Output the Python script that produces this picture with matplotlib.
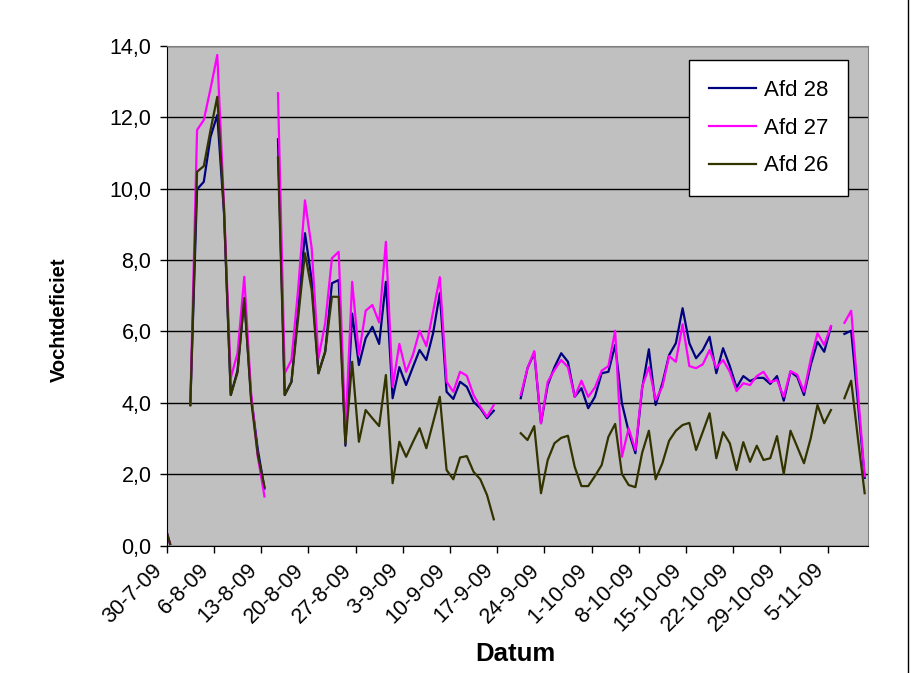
import matplotlib
matplotlib.use("Agg")
import matplotlib.pyplot as plt
import numpy as np
import pandas as pd

nan = np.nan

# dagelijkse waarden vanaf 29-7-09 t/m 10-11-09
datums = pd.date_range("2009-07-29", "2009-11-10", freq="D")

afd28 = [0.7, 0.05, nan, nan, 3.95, 9.98, 10.19, 11.45, 12.06, 9.3, 4.22,
         4.9, 6.93, 4.2, 2.7, 1.6, nan, 11.38, 4.22, 4.59, 6.6, 8.75,
         7.44, 4.83, 5.43, 7.35, 7.44, 2.8, 6.5, 5.06, 5.81, 6.13, 5.65,
         7.39, 4.13, 5.0, 4.5, 5.0, 5.48, 5.2, 5.95, 7.07, 4.31, 4.11,
         4.59, 4.45, 4.03, 3.85, 3.57, 3.78, nan, nan, nan, 4.13, 4.97,
         5.4, 3.43, 4.5, 5.0, 5.39, 5.15, 4.17, 4.41, 3.85, 4.17, 4.83,
         4.87, 5.62, 3.99, 3.2, 2.59, 4.4, 5.5, 3.94, 4.55, 5.34, 5.67,
         6.65, 5.67, 5.25, 5.48, 5.85, 4.83, 5.53, 5.03, 4.43, 4.75, 4.61,
         4.7, 4.7, 4.53, 4.75, 4.06, 4.87, 4.73, 4.22, 5.06, 5.71, 5.43,
         6.13, nan, 5.93, 6.02, 4.0, 1.9]

afd27 = [0.7, 0.05, nan, nan, 3.95, 11.64, 11.92, 12.8, 13.74, 9.5, 4.7,
         5.39, 7.53, 4.3, 2.5, 1.38, nan, 12.67, 4.83, 5.2, 7.2, 9.67,
         8.33, 5.25, 6.23, 8.05, 8.23, 3.19, 7.39, 5.34, 6.58, 6.74, 6.25,
         8.51, 4.45, 5.65, 4.87, 5.34, 6.02, 5.59, 6.55, 7.52, 4.59, 4.31,
         4.87, 4.76, 4.22, 3.89, 3.61, 3.94, nan, nan, nan, 4.22, 4.97,
         5.45, 3.43, 4.59, 4.92, 5.2, 5.0, 4.17, 4.62, 4.17, 4.43, 4.9,
         5.03, 6.02, 2.49, 3.29, 2.68, 4.45, 5.0, 4.08, 4.45, 5.31, 5.15,
         6.2, 5.03, 4.97, 5.08, 5.48, 4.98, 5.2, 4.87, 4.33, 4.55, 4.5,
         4.75, 4.87, 4.58, 4.64, 4.17, 4.89, 4.79, 4.31, 5.22, 5.95, 5.62,
         6.15, nan, 6.24, 6.58, 4.3, 1.95]

afd26 = [0.7, 0.05, nan, nan, 3.93, 10.47, 10.63, 11.64, 12.57, 9.4, 4.22,
         4.85, 6.93, 4.1, 2.55, 1.65, nan, 10.87, 4.22, 4.59, 6.4, 8.19,
         7.16, 4.83, 5.43, 6.97, 6.97, 2.85, 5.15, 2.91, 3.8, 3.57, 3.35,
         4.78, 1.75, 2.91, 2.49, 2.9, 3.29, 2.73, 3.45, 4.17, 2.12, 1.86,
         2.47, 2.51, 2.07, 1.86, 1.42, 0.74, nan, nan, nan, 3.15, 2.96,
         3.35, 1.47, 2.4, 2.87, 3.02, 3.08, 2.21, 1.67, 1.67, 1.95, 2.26,
         3.05, 3.41, 2.01, 1.7, 1.64, 2.6, 3.22, 1.86, 2.31, 2.94, 3.22,
         3.38, 3.44, 2.68, 3.19, 3.71, 2.45, 3.18, 2.87, 2.12, 2.9, 2.35,
         2.8, 2.4, 2.45, 3.07, 2.01, 3.22, 2.77, 2.31, 3.01, 3.94, 3.43,
         3.8, nan, 4.13, 4.62, 3.0, 1.47]

plt.rcParams["font.family"] = ["Liberation Sans", "DejaVu Sans"]

fig = plt.figure(figsize=(9.12, 6.73), dpi=100)
ax = fig.add_axes([0.1828, 0.1891, 0.7690, 0.7430])
ax.set_facecolor("#C0C0C0")

# punten midden in de dag, zoals in Excel
x = datums + pd.Timedelta(hours=12)
ax.plot(x, afd28, color="#000080", lw=1.6, label="Afd 28")
ax.plot(x, afd27, color="#FF00FF", lw=1.6, label="Afd 27")
ax.plot(x, afd26, color="#333300", lw=1.6, label="Afd 26")

ax.set_xlim(pd.Timestamp("2009-07-30"), pd.Timestamp("2009-11-11"))
ax.set_ylim(0, 14)

yt = np.arange(0, 15, 2)
ax.set_yticks(yt)
ax.set_yticklabels([f"{v:.1f}".replace(".", ",") for v in yt], fontsize=15.5)
xt = pd.date_range("2009-07-30", "2009-11-05", freq="7D")
ax.set_xticks(xt)
ax.set_xticklabels([f"{d.day}-{d.month}-{d:%y}" for d in xt], fontsize=15.5,
                   rotation=45, ha="right", va="top")
ax.tick_params(axis="both", direction="out", length=5, width=1, color="black")
ax.tick_params(axis="x", pad=5)
ax.tick_params(axis="y", pad=6)

ax.grid(axis="y", color="black", lw=1)
ax.set_axisbelow(True)
for s in ["top", "right"]:
    ax.spines[s].set_color("#808080")
for s in ["left", "bottom"]:
    ax.spines[s].set_color("black")

ax.set_ylabel("Vochtdeficiet", fontsize=14.5, fontweight="bold")
ax.yaxis.set_label_coords(-0.140, 0.451)
ax.set_xlabel("Datum", fontsize=18.5, fontweight="bold")
ax.xaxis.set_label_coords(0.497, -0.192)

leg = ax.legend(loc="upper right", bbox_to_anchor=(0.9715, 0.9714), fontsize=16,
                frameon=True, fancybox=False, framealpha=1, edgecolor="black",
                handlelength=2.1, handletextpad=0.35, labelspacing=0.75,
                borderpad=0.9, borderaxespad=0)
leg.get_frame().set_linewidth(1)

# rand om het grafiekgebied
fig.add_artist(plt.Line2D([908 / 912, 908 / 912], [0, 1], color="black", lw=1,
                          transform=fig.transFigure))

fig.savefig("out.png", dpi=100)
